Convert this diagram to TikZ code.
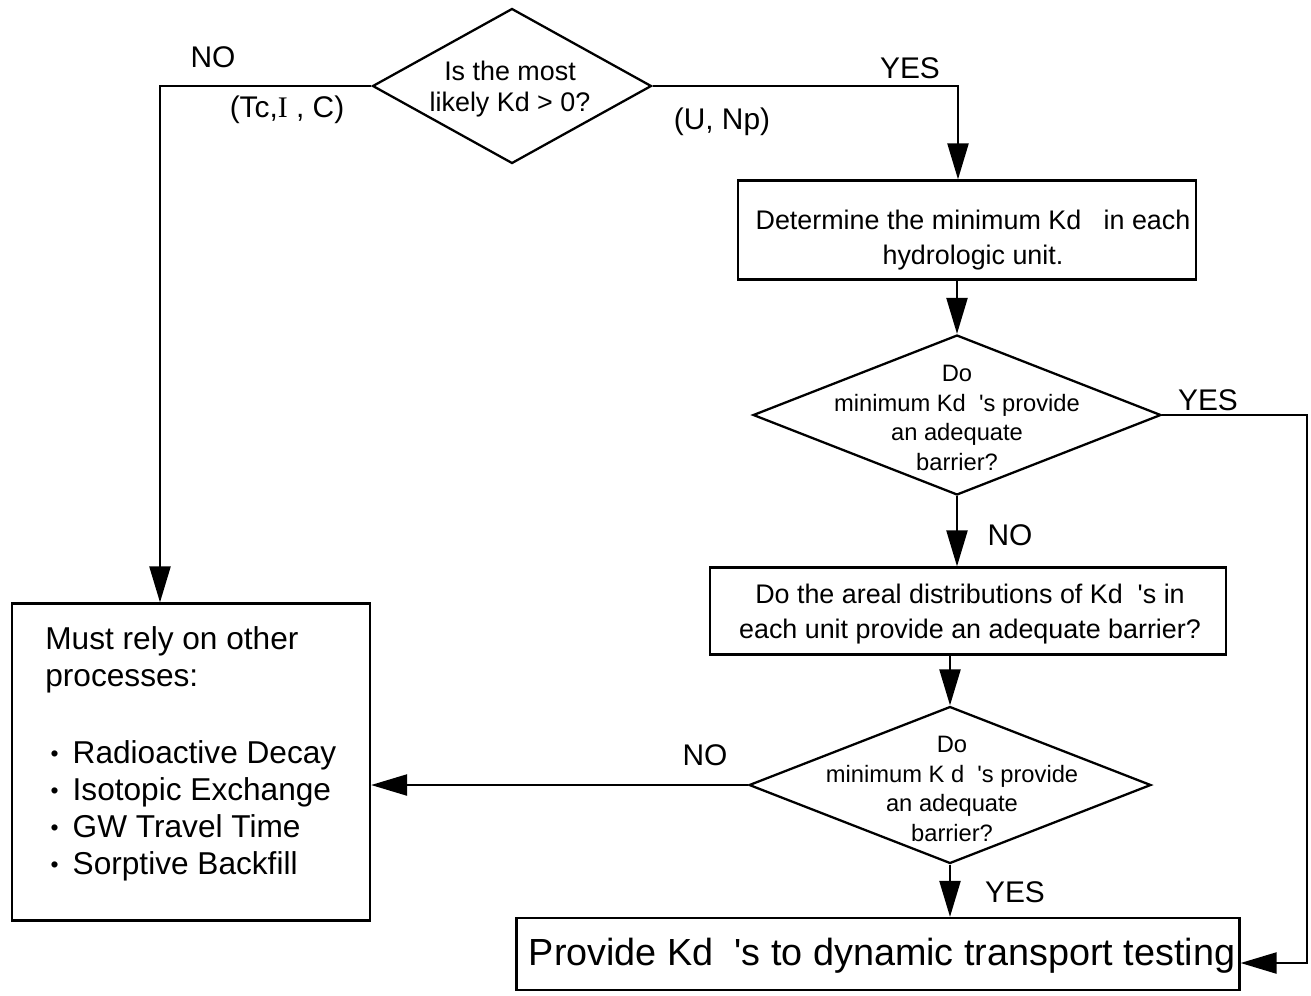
\documentclass[tikz,border=0pt]{standalone}
\usepackage{fontspec}
\setmainfont{Liberation Sans}
\newfontfamily\seriffont{Liberation Serif}
\usetikzlibrary{arrows.meta,shapes.geometric}

\newcommand{\itembullet}{\hspace*{3pt}{\fontsize{13}{13}\selectfont\raisebox{1pt}{\textbullet}}\hspace{8pt}}
\newcommand{\apos}{\textquotesingle}

\begin{document}
\begin{tikzpicture}[x=0.02cm,y=-0.02cm,
  flow/.style={draw=black, line width=1.3pt},
  arr/.style={flow, -{Triangle[length=0.72cm,width=0.42cm]}},
  decision/.style={draw, shape=diamond, inner sep=0pt, line width=1.3pt},
  procbox/.style={draw, rectangle, inner sep=0pt, line width=1.3pt},
  boxtext/.style={align=center, font=\fontsize{15.3}{19.5}\selectfont, inner sep=0pt},
  diatext/.style={align=center, font=\fontsize{13.5}{17}\selectfont, inner sep=0pt},
  answer/.style={font=\fontsize{17}{20}\selectfont, inner sep=0pt},
]
\useasboundingbox (0,0) rectangle (1311,995);

% decisions
\node[decision, minimum width=5.58cm, minimum height=3.1cm] (d1) at (512,86) {};
\node[diatext, font=\fontsize{15.3}{17.6}\selectfont] (d1t) at (510,89) {Is the most\\likely Kd > 0?};

\node[decision, minimum width=8.16cm, minimum height=3.2cm] (d2) at (957,415) {};
\node[diatext] (d2t) at (957,418) {Do\\minimum Kd\ \ \apos s provide\\an adequate\\barrier?};

\node[decision, minimum width=8.04cm, minimum height=3.14cm] (d3) at (950,785) {};
\node[diatext] (d3t) at (952,789) {Do\\minimum K d\ \ \apos s provide\\an adequate\\barrier?};

% process boxes
\node[procbox, minimum width=9.16cm, minimum height=1.98cm] (b2) at (967,230) {};
\node[boxtext] (b2t) at (973,240) {Determine the minimum Kd\ \ \ in each\\hydrologic unit.};

\node[procbox, minimum width=10.32cm, minimum height=1.74cm] (b3) at (968,611) {};
\node[boxtext] (b3t) at (970,614) {Do the areal distributions of Kd\ \ \apos s in\\each unit provide an adequate barrier?};

\node[procbox, minimum width=14.46cm, minimum height=1.44cm] (b4) at (878,954) {};
\node[inner sep=0pt, font=\fontsize{21.5}{24}\selectfont] (b4t) at (882,956) {Provide Kd\ \ \apos s to dynamic transport testing};

\node[procbox, minimum width=7.16cm, minimum height=6.34cm] (b1) at (191,762) {};
\node[inner sep=0pt, align=left, anchor=north west, font=\fontsize{18}{21}\selectfont] (b1t) at (45,626)
  {Must rely on other\\processes:\\[23pt]
   \itembullet Radioactive Decay\\
   \itembullet Isotopic Exchange\\
   \itembullet GW Travel Time\\
   \itembullet Sorptive Backfill};

% bends of the connectors
\coordinate (nobend) at (160,86);
\coordinate (yesbend) at (958,86);
\coordinate (rightbend) at (1307,415);

% connectors
\draw[arr] (d1.west) -- (nobend) -- (nobend |- b1.north);
\draw[arr] (d1.east) -- (yesbend) -- (yesbend |- b2.north);
\draw[arr] (b2.south -| d2.north) -- (d2.north);
\draw[arr] (d2.south) -- (d2.south |- b3.north);
\draw[arr] (b3.south -| d3.north) -- (d3.north);
\draw[arr] (d3.south) -- (d3.south |- b4.north);
\draw[arr] (d3.west) -- (d3.west -| b1.east);
\draw[arr] (d2.east) -- (rightbend) |- ([yshift=-0.18cm]b4.east);

% answers on the branches
\node[answer] (no1) at (213,57) {NO};
\node[answer] (set1) at (287,110) {(Tc,{\seriffont I} , C)};
\node[answer] (yes1) at (910,68) {YES};
\node[answer] (set2) at (722,122) {(U, Np)};
\node[answer] (yes2) at (1208,400) {YES};
\node[answer] (no2) at (1010,535) {NO};
\node[answer] (no3) at (705,755) {NO};
\node[answer] (yes3) at (1015,892) {YES};
\end{tikzpicture}
\end{document}
